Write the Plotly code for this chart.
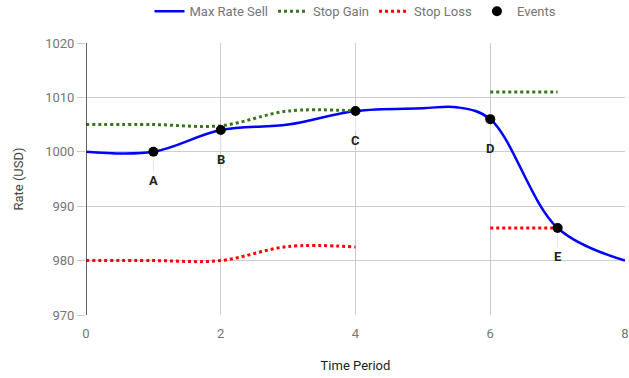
import plotly.graph_objects as go

# Data
rate_x = [0, 1, 2, 3, 4, 5, 5.5, 6, 7, 8]
rate_y = [1000, 1000, 1004, 1005, 1007.5, 1008, 1008.2, 1006, 986, 980]

gain_x = [0, 1, 2, 3, 4, None, 6, 7]
gain_y = [1005, 1005, 1004.8, 1007.5, 1007.5, None, 1011, 1011]

loss_x = [0, 1, 2, 3, 4, None, 6, 7]
loss_y = [980, 980, 980, 982.6, 982.5, None, 986, 986]

event_x = [1, 2, 4, 6, 7]
event_y = [1000, 1004, 1007.5, 1006, 986]
event_labels = ["A", "B", "C", "D", "E"]

x_ticks = [0, 2, 4, 6, 8]
y_ticks = [970, 980, 990, 1000, 1010, 1020]

fig = go.Figure()
fig.add_trace(go.Scatter(x=rate_x, y=rate_y, mode="lines", name="Max Rate Sell",
                         line=dict(color="#0000ff", width=2.5, shape="spline", smoothing=1.0)))
fig.add_trace(go.Scatter(x=gain_x, y=gain_y, mode="lines", name="Stop Gain",
                         line=dict(color="#38761d", width=3, dash="dot", shape="spline"),
                         connectgaps=False))
fig.add_trace(go.Scatter(x=loss_x, y=loss_y, mode="lines", name="Stop Loss",
                         line=dict(color="#ff0000", width=3, dash="dot", shape="spline"),
                         connectgaps=False))
fig.add_trace(go.Scatter(x=event_x, y=event_y, mode="markers", name="Events",
                         marker=dict(color="#000000", size=10)))

for ex, ey, lab in zip(event_x, event_y, event_labels):
    fig.add_annotation(x=ex, y=ey, text="<b>" + lab + "</b>", showarrow=True,
                       arrowhead=0, arrowwidth=1, arrowcolor="#e6e6e6",
                       ax=0, ay=29, font=dict(size=13, color="#222222"),
                       standoff=6)

fig.update_layout(
    width=629, height=378,
    margin=dict(l=86, r=4, t=43, b=63, autoexpand=False),
    paper_bgcolor="white", plot_bgcolor="white",
    font=dict(family="Roboto, Arial, sans-serif", size=13, color="#757575"),
    showlegend=True,
    legend=dict(orientation="h", x=0.5, xanchor="center", y=1.172, yanchor="top",
                yref="paper", font=dict(size=13, color="#757575"),
                itemwidth=30),
    xaxis=dict(range=[0, 8], tickvals=x_ticks, showgrid=True, gridcolor="#cccccc",
               zeroline=False, showline=False, ticks="outside", ticklen=6,
               tickcolor="rgba(0,0,0,0)", automargin=False,
               title=dict(text="Time Period", font=dict(size=13, color="#222222"), standoff=21)),
    yaxis=dict(range=[970, 1020], tickvals=y_ticks, showgrid=True, gridcolor="#cccccc",
               zeroline=False, showline=False, ticks="outside", ticklen=8, tickcolor="#cccccc",
               automargin=False,
               title=dict(text="Rate (USD)", font=dict(size=13, color="#444444"), standoff=18)),
)
fig.add_shape(type="line", x0=0, x1=0, y0=970, y1=1020, xref="x", yref="y",
              line=dict(color="#333333", width=1.5), layer="above")

fig.write_html("out.html")
